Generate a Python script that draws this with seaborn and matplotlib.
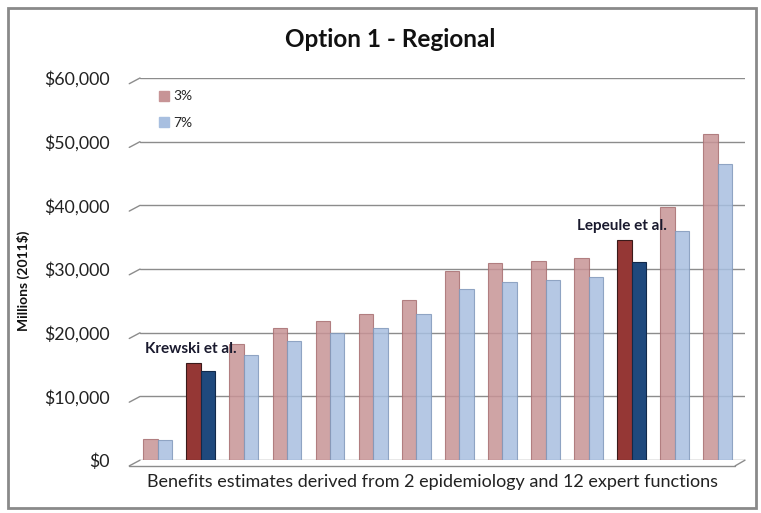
import matplotlib
matplotlib.use("Agg")
import matplotlib.pyplot as plt
import matplotlib.patches as mpatches
from matplotlib.lines import Line2D
import seaborn as sns
import pandas as pd

# Benefit estimates (millions of 2011$), one pair per function
functions = [f"F{i}" for i in range(1, 15)]
rate_3 = [3300, 15300, 18300, 20700, 21900, 22900, 25200, 29700, 31000, 31200, 31700, 34600, 39700, 51200]
rate_7 = [3100, 14000, 16500, 18700, 19900, 20700, 22900, 26800, 28000, 28300, 28700, 31100, 36000, 46500]
rates = ["3%", "7%"]
yticks = [0, 10000, 20000, 30000, 40000, 50000, 60000]
highlights = {1: "Krewski et al.", 11: "Lepeule et al."}

df = pd.DataFrame({
    "function": functions * 2,
    "rate": [rates[0]] * len(functions) + [rates[1]] * len(functions),
    "value": rate_3 + rate_7,
})

sns.set_theme(style="white")
plt.rcParams["font.family"] = ["Lato", "DejaVu Sans"]

fig = plt.figure(figsize=(7.61, 5.13), dpi=100)
ax = fig.add_axes([0.184, 0.103, 0.795, 0.745])

light = {"3%": "#c79496", "7%": "#a8bfe0"}
dark = {"3%": "#953735", "7%": "#1f497d"}

sns.barplot(data=df, x="function", y="value", hue="rate", hue_order=rates,
            order=functions, palette=light, width=0.67, dodge=True,
            errorbar=None, ax=ax, zorder=3, legend=True)

edge = {"3%": "#a87072", "7%": "#8299bb"}
for cont, rate in zip(ax.containers, rates):
    for i, bar in enumerate(cont):
        if i in highlights:
            bar.set_facecolor(dark[rate])
            bar.set_edgecolor("#3a1a1a" if rate == "3%" else "#12294a")
            bar.set_alpha(1.0)
        else:
            bar.set_facecolor(light[rate])
            bar.set_edgecolor(edge[rate])
            bar.set_alpha(0.85)
        bar.set_linewidth(0.8)

# labels above the highlighted pairs
for i, name in highlights.items():
    ax.text(i - 0.22, rate_3[i] + 1100, name, ha="center", va="bottom",
            fontsize=11, fontweight="bold", color="#1a1a2e", zorder=5)

ax.set_xlim(-0.41, 13.63)
ax.set_ylim(0, 60000)
ax.set_yticks(yticks)
ax.set_yticklabels([f"${v:,}" for v in yticks], fontsize=12.8, color="#222222")
ax.tick_params(axis="y", length=0, pad=22)
ax.set_xticks([])
ax.set_xlabel("Benefits estimates derived from 2 epidemiology and 12 expert functions",
              fontsize=13, color="#222222")
ax.xaxis.set_label_coords(0.483, -0.035, transform=ax.transAxes)
ax.xaxis.label.set_va("top")
ax.set_ylabel("Millions (2011$)", fontsize=10, fontweight="bold", color="#111111")
ax.yaxis.set_label_coords(-0.182, 0.47)
ax.yaxis.grid(True, color="#8c8c8c", linewidth=1.0, zorder=0)
ax.set_axisbelow(True)
for s in ax.spines.values():
    s.set_visible(False)

# short slanted wall edges at the start of each gridline
for v in yticks:
    ax.add_line(Line2D([-0.66, -0.41], [v - 900, v], color="#8c8c8c",
                       linewidth=1.0, clip_on=False, zorder=1))
# floor edge
ax.add_line(Line2D([-0.66, 13.4], [-900, -900], color="#8c8c8c",
                   linewidth=1.0, clip_on=False, zorder=1))
ax.add_line(Line2D([13.4, 13.63], [-900, 0], color="#8c8c8c",
                   linewidth=1.0, clip_on=False, zorder=1))

leg = ax.legend(loc="upper left", bbox_to_anchor=(0.01, 1.0), frameon=False,
                handlelength=0.75, handleheight=0.75, handletextpad=0.3,
                labelspacing=1.05, fontsize=10)
for h, rate in zip(leg.legend_handles, rates):
    h.set_facecolor(light[rate])
    h.set_edgecolor(light[rate])
    h.set_alpha(1.0)

fig.suptitle("Option 1 - Regional", x=0.513, y=0.945, fontsize=17.5,
             fontweight="bold", color="#111111")

# chart frame
fig.patches.append(mpatches.Rectangle((0.011, 0.01), 0.983, 0.975,
                                      transform=fig.transFigure, fill=False,
                                      edgecolor="#8a8a8a", linewidth=2.0))

fig.savefig("out.png", dpi=100, facecolor="white")
